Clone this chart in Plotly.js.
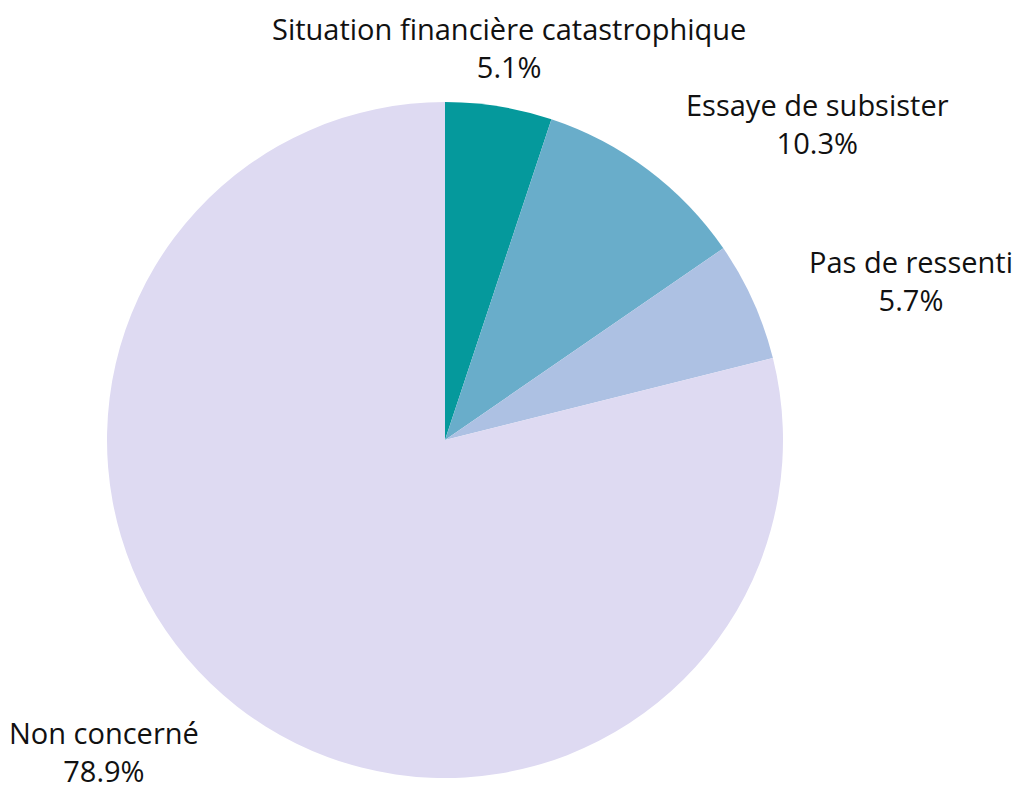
<!DOCTYPE html>
<html><head><meta charset="utf-8">
<script src="https://cdn.plot.ly/plotly-3.0.1.min.js"></script>
<style>body{margin:0;background:#fff}</style>
</head><body>
<div id="chart" style="width:1017px;height:791px"></div>
<script>
const categories = ["Situation financière catastrophique", "Essaye de subsister", "Pas de ressenti", "Non concerné"];
const values = [5.1, 10.3, 5.7, 78.9];
const colors = ["#05999c", "#69adca", "#adc1e3", "#dedaf2"];

// label anchor positions in page pixels (layout only)
const labelPos = [[509, 48], [817, 123], [911, 280], [104, 751]];

const W = 1017, H = 791;
const M = {l: 107, r: 234, t: 102, b: 13};
const pw = W - M.l - M.r, ph = H - M.t - M.b;

const fontFam = "Open Sans, Noto Sans, sans-serif";
const annotations = categories.map((c, i) => ({
  xref: "paper", yref: "paper",
  x: (labelPos[i][0] - M.l) / pw,
  y: (H - M.b - labelPos[i][1]) / ph,
  xanchor: "center", yanchor: "middle",
  text: c + "<br>" + values[i].toFixed(1) + "%",
  showarrow: false,
  align: "center",
  borderpad: 0,
  font: {family: fontFam, size: 29, color: "#111"}
}));

Plotly.newPlot("chart", [{
  type: "pie",
  labels: categories,
  values: values,
  sort: false,
  direction: "clockwise",
  rotation: 0,
  marker: {colors: colors, line: {width: 0}},
  textinfo: "none",
  hoverinfo: "label+percent",
  automargin: false
}], {
  width: W, height: H,
  margin: M,
  showlegend: false,
  paper_bgcolor: "#fff",
  font: {family: fontFam},
  annotations: annotations
}, {displayModeBar: false, staticPlot: true});
</script>
</body></html>
